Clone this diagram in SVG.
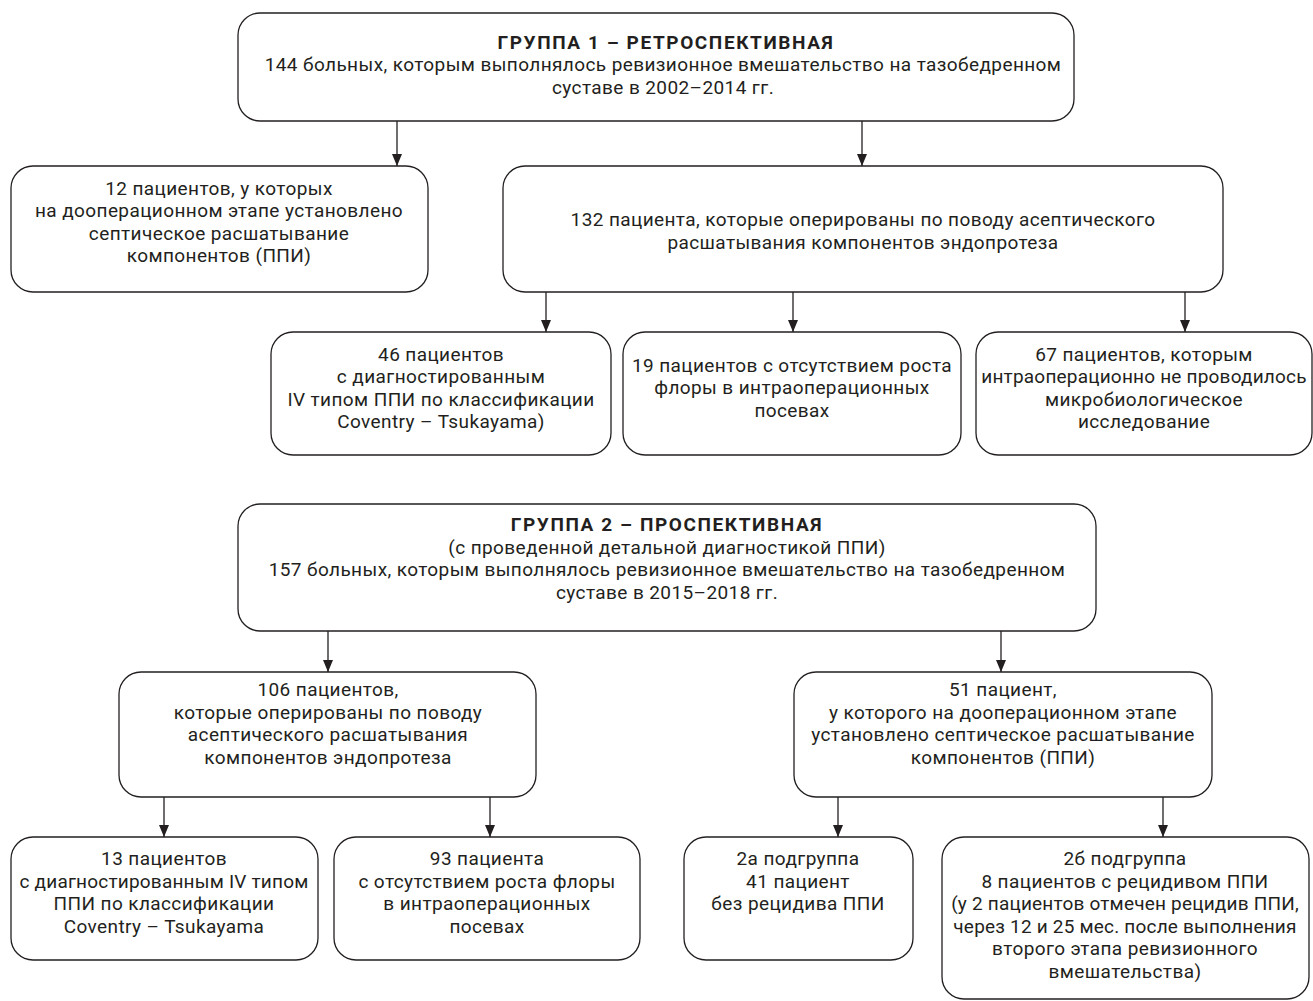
<svg xmlns="http://www.w3.org/2000/svg" width="1313" height="1001" viewBox="0 0 1313 1001">
<defs>
<marker id="arr" markerUnits="userSpaceOnUse" markerWidth="12" markerHeight="10" refX="12" refY="5" orient="auto" viewBox="0 0 12 10">
<path d="M0,0 L12,5 L0,10 Z" fill="#231f20"/>
</marker>
<style>
.box{fill:#fff;stroke:#231f20;stroke-width:1.3}
.t{font-family:Roboto,"Liberation Sans",sans-serif;font-size:19px;letter-spacing:0.4px;fill:#231f20;text-anchor:middle}
.b{font-weight:bold;letter-spacing:1.6px}
.n{letter-spacing:0.2px}
.c line{stroke:#231f20;stroke-width:1.3;marker-end:url(#arr)}
</style>
</defs>
<rect width="1313" height="1001" fill="#fff"/>
<g class="c" id="connectors">
<line x1="397" y1="121" x2="397" y2="166"/>
<line x1="862" y1="121" x2="862" y2="166"/>
<line x1="546" y1="292" x2="546" y2="332"/>
<line x1="793" y1="292" x2="793" y2="332"/>
<line x1="1185" y1="292" x2="1185" y2="332"/>
<line x1="328" y1="631" x2="328" y2="672"/>
<line x1="1001" y1="631" x2="1001" y2="672"/>
<line x1="164" y1="797" x2="164" y2="837"/>
<line x1="490" y1="797" x2="490" y2="837"/>
<line x1="838" y1="797" x2="838" y2="837"/>
<line x1="1163" y1="797" x2="1163" y2="837"/>
</g>
<g id="nodeA">
<rect class="box" x="238" y="13" width="836" height="108" rx="22"/>
<text class="t b" x="666" y="48.5">ГРУППА 1 – РЕТРОСПЕКТИВНАЯ</text>
<text class="t" x="663" y="71">144 больных, которым выполнялось ревизионное вмешательство на тазобедренном</text>
<text class="t" x="663" y="93.5">суставе в 2002–2014 гг.</text>
</g>
<g id="nodeB">
<rect class="box" x="11" y="166" width="417" height="126" rx="22"/>
<text class="t" x="219" y="194.5">12 пациентов, у которых</text>
<text class="t" x="219" y="217">на дооперационном этапе установлено</text>
<text class="t" x="219" y="239.5">септическое расшатывание</text>
<text class="t" x="219" y="262">компонентов (ППИ)</text>
</g>
<g id="nodeC">
<rect class="box" x="503" y="166" width="720" height="126" rx="22"/>
<text class="t" x="863" y="226">132 пациента, которые оперированы по поводу асептического</text>
<text class="t" x="863" y="248.5">расшатывания компонентов эндопротеза</text>
</g>
<g id="nodeD">
<rect class="box" x="271" y="332" width="340" height="123" rx="22"/>
<text class="t" x="441" y="360.5">46 пациентов</text>
<text class="t" x="441" y="383">с диагностированным</text>
<text class="t" x="441" y="405.5">IV типом ППИ по классификации</text>
<text class="t" x="441" y="428">Coventry – Tsukayama)</text>
</g>
<g id="nodeE">
<rect class="box" x="623" y="332" width="338" height="123" rx="22"/>
<text class="t" x="792" y="371.5">19 пациентов с отсутствием роста</text>
<text class="t" x="792" y="394">флоры в интраоперационных</text>
<text class="t" x="792" y="416.5">посевах</text>
</g>
<g id="nodeF">
<rect class="box" x="976" y="332" width="336" height="123" rx="22"/>
<text class="t" x="1144" y="360.5">67 пациентов, которым</text>
<text class="t n" x="1144" y="383">интраоперационно не проводилось</text>
<text class="t" x="1144" y="405.5">микробиологическое</text>
<text class="t" x="1144" y="428">исследование</text>
</g>
<g id="nodeG">
<rect class="box" x="238" y="504" width="858" height="127" rx="22"/>
<text class="t b" x="667" y="531">ГРУППА 2 – ПРОСПЕКТИВНАЯ</text>
<text class="t" x="667" y="553.5">(с проведенной детальной диагностикой ППИ)</text>
<text class="t" x="667" y="576">157 больных, которым выполнялось ревизионное вмешательство на тазобедренном</text>
<text class="t" x="667" y="598.5">суставе в 2015–2018 гг.</text>
</g>
<g id="nodeH">
<rect class="box" x="119" y="672" width="417" height="125" rx="22"/>
<text class="t" x="328" y="696">106 пациентов,</text>
<text class="t" x="328" y="718.5">которые оперированы по поводу</text>
<text class="t" x="328" y="741">асептического расшатывания</text>
<text class="t" x="328" y="763.5">компонентов эндопротеза</text>
</g>
<g id="nodeI">
<rect class="box" x="794" y="672" width="418" height="125" rx="22"/>
<text class="t" x="1003" y="696">51 пациент,</text>
<text class="t" x="1003" y="718.5">у которого на дооперационном этапе</text>
<text class="t" x="1003" y="741">установлено септическое расшатывание</text>
<text class="t" x="1003" y="763.5">компонентов (ППИ)</text>
</g>
<g id="nodeJ">
<rect class="box" x="11" y="837" width="307" height="123" rx="22"/>
<text class="t" x="164" y="865">13 пациентов</text>
<text class="t n" x="164" y="887.5">с диагностированным IV типом</text>
<text class="t" x="164" y="910">ППИ по классификации</text>
<text class="t" x="164" y="932.5">Coventry – Tsukayama</text>
</g>
<g id="nodeK">
<rect class="box" x="334" y="837" width="306" height="123" rx="22"/>
<text class="t" x="487" y="865">93 пациента</text>
<text class="t" x="487" y="887.5">с отсутствием роста флоры</text>
<text class="t" x="487" y="910">в интраоперационных</text>
<text class="t" x="487" y="932.5">посевах</text>
</g>
<g id="nodeL">
<rect class="box" x="684" y="837" width="229" height="123" rx="22"/>
<text class="t" x="798" y="865">2а подгруппа</text>
<text class="t" x="798" y="887.5">41 пациент</text>
<text class="t" x="798" y="910">без рецидива ППИ</text>
</g>
<g id="nodeM">
<rect class="box" x="942" y="837" width="367" height="162" rx="22"/>
<text class="t" x="1125" y="865">2б подгруппа</text>
<text class="t" x="1125" y="887.5">8 пациентов с рецидивом ППИ</text>
<text class="t n" x="1125" y="910">(у 2 пациентов отмечен рецидив ППИ,</text>
<text class="t n" x="1125" y="932.5">через 12 и 25 мес. после выполнения</text>
<text class="t" x="1125" y="955">второго этапа ревизионного</text>
<text class="t" x="1125" y="977.5">вмешательства)</text>
</g>
</svg>
